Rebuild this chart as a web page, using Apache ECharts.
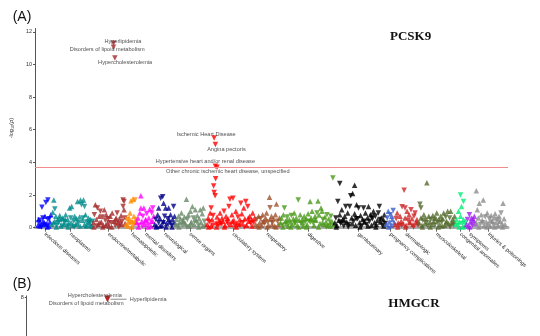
<!DOCTYPE html>
<html><head><meta charset="utf-8">
<script src="https://cdn.jsdelivr.net/npm/echarts@6/dist/echarts.min.js"></script>
<style>html,body{margin:0;padding:0;background:#fff}#c{width:540px;height:336px}</style>
</head><body><div id="c"></div>
<script>
// ---------- DATA (x = phenotype position, y = -log10(p), dir: 1 = up / -1 = down) ----------
const categories = ['infectious diseases','neoplasms','endocrine/metabolic','hematopoietic','mental disorders','neurological','sense organs','circulatory system','respiratory','digestive','genitourinary','pregnancy complications','dermatologic','musculoskeletal','congenital anomalies','symptoms','injuries & poisonings'];
const tickPos = [40,65.7,104.3,127.7,141.7,161,186.7,230,264.3,306,357,389,405,435.7,460,469.3,488.3];
const yTicksA = [0,2,4,6,8,10,12];
const yTicksB = [8];
const threshold = 3.68;

const infectious = [[33,0.15,1],[34,0.3,-1],[35,0.1,1],[35,0.45,-1],[36,0.2,1],[37,1.25,-1],[38,0.4,1],[38,0.6,-1],[39,0.15,-1],[40,0.7,1],[41,1.55,-1],[41,0.2,1],[42,0.25,1],[43,1.7,-1],[43,0.5,-1],[44,0.1,1],[45,0.35,1],[46,0.8,1],[33.5,0.5,1],[36.5,0.05,-1],[39.5,0.3,1],[42.5,0.05,1],[44.5,0.55,-1]];
const neoplasms = [[47,0.2,1],[48,0.95,1],[49,1.7,1],[50,1.15,-1],[50,0.4,1],[51,0.7,1],[52,0.15,-1],[53,0.5,1],[54,0.3,-1],[55,0.75,1],[56,0.1,1],[57,0.45,-1],[58,0.6,1],[59,0.2,1],[60,0.35,-1],[61,0.8,1],[62,0.1,-1],[63,0.5,1],[64,0.25,1],[65,1.2,1],[66,0.6,-1],[67,1.3,1],[68,0.15,1],[69,0.4,-1],[70,0.7,1],[71,0.2,1],[72,0.55,1],[73,1.6,1],[74,0.3,-1],[75,0.65,1],[76,1.7,1],[77,1.4,-1],[78,0.45,1],[79,1.7,1],[80,1.3,-1],[80,0.2,1],[81,0.8,1],[82,0.35,-1],[83,0.15,1],[84,0.6,1],[85,0.25,-1],[86,0.5,1],[87,0.1,1],[88,0.4,-1],[48.5,0.3,1],[51.5,0.05,1],[54.5,0.55,1],[57.5,0.1,-1],[60.5,0.5,1],[63.5,0.05,1],[66.5,0.3,1],[69.5,0.05,-1],[72.5,0.25,1],[75.5,0.1,1],[78.5,0.6,-1],[81.5,0.1,1],[84.5,0.35,1],[86.5,0.05,-1]];
const endocrine = [[89,0.3,1],[90,0.8,-1],[91,1.4,1],[92,0.5,1],[93,1.2,-1],[94,0.2,1],[95,0.7,1],[96,1.0,-1],[97,0.35,1],[98,0.65,-1],[99,0.15,1],[100,1.1,1],[101,0.45,-1],[102,0.8,1],[103,0.25,1],[104,0.55,-1],[105,0.1,1],[106,0.7,1],[107,0.3,-1],[108,0.9,1],[110,0.4,1],[111,0.15,-1],[112,0.6,1],[113,0.9,-1],[114,0.3,1],[115,0.5,1],[116,0.2,-1],[117,0.75,1],[118,0.4,-1],[119,1.7,-1],[119,1.3,-1],[120,1.6,-1],[120,1.1,1],[121,0.25,1],[121,0.6,-1],[89.5,0.05,1],[92.5,0.1,-1],[95.5,0.3,1],[98.5,0.05,1],[101.5,0.15,1],[104.5,0.3,-1],[107.5,0.05,1],[111.5,0.5,1],[114.5,0.05,-1],[117.5,0.2,1],[109.3,11.3,-1,'Hyperlipidemia'],[109.3,11.05,-1,'Disorders of lipoid metabolism'],[110.7,10.4,-1,'Hypercholesterolemia']];
const hematopoietic = [[122,0.2,1],[123,0.5,-1],[124,0.1,1],[125,0.6,1],[126,0.3,-1],[126,0.9,1],[127,1.65,1],[128,0.4,1],[129,1.75,1],[129,0.15,-1],[130,0.7,1],[131,1.7,-1],[132,0.35,1],[132,0.55,1],[124.5,0.35,1],[127.5,0.05,1],[130.5,0.25,-1]];
const mental = [[133,0.3,1],[134,0.6,1],[135,0.15,-1],[136,0.9,1],[137,1.95,1],[137,1.2,1],[138,0.4,1],[139,0.7,-1],[140,1.2,1],[141,0.2,1],[142,0.5,1],[143,0.85,-1],[144,0.3,1],[145,0.6,1],[146,1.15,1],[147,0.1,1],[148,0.9,-1],[149,1.2,-1],[149,0.4,1],[150,0.7,1],[134.5,0.05,1],[138.5,0.1,-1],[141.5,0.45,1],[144.5,0.05,1],[147.5,0.4,1]];
const neurological = [[151,0.2,1],[152,0.5,-1],[153,0.1,1],[154,0.8,1],[155,1.2,1],[155,0.3,-1],[156,0.6,1],[157,1.8,-1],[158,0.15,1],[159,1.9,-1],[160,1.5,1],[160,0.4,1],[161,0.7,-1],[162,1.2,1],[163,0.25,1],[164,0.55,-1],[165,1.2,1],[166,0.35,1],[167,0.8,1],[168,0.15,-1],[169,0.5,1],[170,1.3,-1],[171,0.3,1],[171,0.7,1],[152.5,0.05,1],[156.5,0.1,1],[159.5,0.3,-1],[162.5,0.05,1],[165.5,0.5,1],[168.5,0.05,1]];
const senseOrgans = [[172,0.2,1],[173,0.5,1],[174,0.1,-1],[175,0.7,1],[176,0.3,1],[177,0.55,1],[178,0.9,1],[179,0.15,-1],[180,0.4,1],[181,0.65,1],[182,0.25,1],[183,1.75,1],[184,0.5,-1],[185,0.8,1],[186,0.1,1],[187,1.0,1],[188,0.35,1],[189,1.3,1],[190,0.6,-1],[191,0.2,1],[192,1.1,1],[193,0.45,1],[194,0.75,1],[195,0.15,-1],[196,0.55,1],[197,1.1,1],[198,0.3,1],[199,0.85,1],[200,1.2,1],[201,0.4,-1],[202,0.2,1],[175.5,0.05,1],[179.5,0.45,1],[183.5,0.05,-1],[187.5,0.25,1],[191.5,0.5,1],[195.5,0.05,1],[199.5,0.1,1]];
const circulatory = [[204,0.2,1],[205,0.6,1],[206,0.35,-1],[207,0.9,1],[208,1.2,-1],[208,0.1,1],[209,0.5,1],[210,0.75,-1],[210.5,2.55,-1],[211,2.15,-1],[212.5,3.0,-1],[212,1.95,-1],[213,0.3,1],[214,0.65,1],[215,0.15,-1],[216,0.45,1],[217,0.9,1],[218,0.25,-1],[219,0.6,1],[220,0.4,1],[221,1.0,-1],[222,0.15,1],[223,0.7,1],[224,0.35,-1],[225,0.55,1],[226,1.3,-1],[227,1.75,-1],[228,0.2,1],[229,0.8,1],[230,1.8,-1],[231,0.45,1],[232,0.1,-1],[233,1.0,1],[234,0.3,1],[235,0.65,-1],[236,0.2,1],[237,0.5,1],[238,1.5,-1],[239,0.85,1],[240,0.3,-1],[241,1.2,1],[242,0.55,1],[243,1.6,-1],[244,0.15,1],[245,1.3,-1],[246,0.4,1],[247,0.7,1],[248,0.25,-1],[249,0.5,1],[250,0.9,1],[251,0.3,-1],[252,0.6,1],[205.5,0.05,1],[209.5,0.15,-1],[213.5,0.05,1],[217.5,0.3,1],[221.5,0.05,1],[225.5,0.2,-1],[229.5,0.4,1],[233.5,0.05,1],[237.5,0.25,1],[241.5,0.05,-1],[245.5,0.6,1],[249.5,0.1,1],[211,5.5,-1,'Ischemic Heart Disease'],[212.3,5.1,-1,'Angina pectoris'],[212.3,3.77,-1,'Hypertensive heart and/or renal disease'],[214,3.7,-1,'Other chronic ischemic heart disease, unspecified']];
const respiratory = [[253,0.2,1],[254,0.5,-1],[255,0.1,1],[256,0.7,1],[257,0.3,1],[258,0.55,-1],[259,0.15,1],[260,0.8,1],[261,0.4,1],[262,0.25,-1],[263,0.6,1],[264,0.9,1],[265,0.35,-1],[266,0.15,1],[267,1.86,1],[267.5,1.22,-1],[268,0.5,1],[269,0.7,1],[270,0.3,-1],[271,0.55,1],[272,0.1,1],[273,0.8,1],[274,1.45,1],[275,0.4,-1],[276,0.2,1],[277,0.6,1],[256.5,0.05,1],[260.5,0.3,-1],[264.5,0.05,1],[269.5,0.2,1],[273.5,0.05,1]];
const digestive = [[278,0.3,1],[279,0.6,1],[280,0.15,-1],[281,0.8,1],[282,1.2,-1],[283,0.4,1],[284,0.25,1],[285,0.65,-1],[286,0.1,1],[287,0.5,1],[288,0.35,1],[289,0.75,-1],[290,0.2,1],[291,0.55,1],[292,0.9,1],[293,0.3,-1],[294,0.6,1],[295,0.15,1],[296,1.7,-1],[297,0.45,1],[298,0.8,1],[299,0.25,-1],[300,0.5,1],[301,0.1,1],[302,0.7,1],[303,0.35,-1],[304,0.55,1],[305,0.2,1],[306,0.85,1],[307,0.4,-1],[308,1.6,1],[309,0.6,1],[310,1.0,1],[311,0.3,-1],[312,0.15,1],[313,0.7,1],[314,0.45,1],[315,0.9,-1],[316,1.63,1],[317,0.78,1],[318,0.25,1],[319,1.2,1],[320,1.0,1],[321,0.5,-1],[322,0.2,1],[323,0.65,1],[324,0.35,1],[325,0.8,-1],[326,0.15,1],[327,0.55,1],[328,0.3,1],[329,0.7,-1],[330,0.4,1],[331,3.05,-1],[332,0.2,1],[280.5,0.05,1],[284.5,0.45,1],[288.5,0.05,1],[292.5,0.25,-1],[296.5,0.05,1],[300.5,0.3,1],[304.5,0.05,1],[308.5,0.35,-1],[312.5,0.5,1],[316.5,0.05,1],[320.5,0.3,1],[324.5,0.05,-1],[328.5,0.1,1]];
const genitourinary = [[333,0.3,1],[334,0.6,-1],[335,0.15,1],[336,1.6,-1],[337,0.45,1],[338,2.7,-1],[338,0.8,1],[339,0.25,-1],[340,1.1,1],[341,0.5,1],[342,0.1,-1],[343,0.7,1],[344,1.3,-1],[345,0.35,1],[346,0.9,1],[347,0.2,-1],[348,1.3,-1],[349,1.95,-1],[350,0.6,1],[351,2.1,1],[352,0.4,-1],[353,2.6,1],[353,0.85,1],[354,0.15,1],[355,1.4,1],[356,0.55,-1],[357,1.2,-1],[358,0.3,1],[359,0.75,1],[360,0.1,-1],[361,0.5,1],[362,1.2,-1],[363,0.35,1],[364,0.9,1],[365,0.2,-1],[366,0.6,1],[367,1.3,1],[368,0.4,-1],[369,0.8,1],[370,0.15,1],[371,0.55,-1],[372,1.0,1],[373,0.3,1],[374,0.7,-1],[375,0.2,1],[376,0.45,1],[377,0.9,-1],[378,1.3,-1],[379,0.35,1],[380,0.6,1],[381,0.15,-1],[382,0.5,1],[383,0.8,1],[384,0.25,-1],[334.5,0.05,1],[338.5,0.35,-1],[342.5,0.45,1],[346.5,0.05,-1],[350.5,0.25,1],[354.5,0.55,-1],[358.5,0.05,1],[362.5,0.4,-1],[366.5,0.1,1],[370.5,0.65,-1],[374.5,0.05,1],[378.5,0.5,-1],[382.5,0.1,1]];
const pregnancy = [[385,0.2,1],[386,0.6,-1],[387,1.0,1],[388,0.35,1],[389,0.8,-1],[390,0.15,1],[391,0.5,1],[392,1.05,-1],[393,0.3,1],[387.5,0.05,1],[390.5,0.7,1]];
const dermatologic = [[394,0.2,1],[395,0.55,-1],[396,0.9,1],[397,0.3,1],[398,0.1,-1],[399,0.7,1],[400,0.4,1],[401,1.28,-1],[402,0.25,1],[403,2.3,-1],[404,1.2,-1],[404,0.6,1],[405,0.15,1],[406,1.0,1],[407,0.45,-1],[408,0.8,1],[409,0.3,1],[410,1.1,-1],[411,0.55,1],[412,0.2,1],[413,0.7,-1],[414,0.9,-1],[415,0.35,1],[416,0.5,1],[417,0.15,-1],[396.5,0.05,1],[400.5,0.15,-1],[404.5,0.05,1],[408.5,0.35,1],[412.5,0.05,-1],[416.5,0.3,1]];
const musculoskeletal = [[418,0.3,1],[419,1.43,-1],[420,1.2,-1],[420,0.6,1],[421,0.15,1],[422,0.45,-1],[423,0.8,1],[424,0.25,1],[425,0.55,1],[426,2.75,1],[427,0.1,-1],[428,0.7,1],[429,0.35,1],[430,0.5,-1],[431,0.2,1],[432,0.75,1],[433,0.4,1],[434,0.15,-1],[435,0.6,1],[436,0.9,1],[437,0.3,-1],[438,0.5,1],[439,0.2,1],[440,0.7,1],[441,0.35,-1],[442,0.55,1],[443,0.9,1],[444,0.15,1],[445,0.65,-1],[446,0.4,1],[447,1.0,1],[448,0.25,1],[449,0.6,-1],[450,1.0,1],[451,0.3,1],[452,0.5,1],[453,0.15,-1],[454,0.7,1],[421.5,0.05,1],[425.5,0.3,-1],[429.5,0.05,1],[433.5,0.6,1],[437.5,0.05,1],[441.5,0.1,1],[445.5,0.3,1],[449.5,0.05,-1],[453.5,0.4,1]];
const congenital = [[455,0.2,1],[456,0.5,1],[457,0.15,-1],[458,1.0,1],[459,0.35,1],[460,2.0,-1],[460,0.7,1],[461,1.3,1],[462,0.25,-1],[463,1.6,-1],[463,0.5,1],[464,0.1,1],[465,0.4,1],[458.5,0.05,1],[462.5,0.05,1]];
const symptoms = [[466,0.2,1],[467,0.5,-1],[468,0.1,1],[469,0.8,-1],[470,0.35,1],[471,0.6,1],[472,0.15,-1],[473,0.45,1],[474,0.7,1],[475,0.25,1],[469.5,0.05,1],[472.5,0.55,1]];
const injuries = [[476,0.3,1],[476,2.26,1],[477,1.1,1],[478,0.6,1],[479,1.5,1],[480,0.2,-1],[481,0.8,1],[482,0.45,1],[483,1.7,1],[484,0.15,1],[485,0.65,-1],[486,0.35,1],[487,0.9,1],[488,0.25,1],[489,0.55,-1],[490,0.1,1],[491,0.75,1],[492,0.4,1],[493,0.2,-1],[494,0.6,1],[495,0.85,1],[496,0.3,1],[497,0.5,-1],[498,0.15,1],[499,0.7,1],[500,0.4,1],[501,0.9,-1],[502,0.25,1],[503,1.5,1],[504,0.55,1],[505,0.2,1],[478.5,0.05,1],[482.5,0.3,-1],[486.5,0.05,1],[490.5,0.45,1],[494.5,0.05,1],[498.5,0.35,-1],[502.5,0.05,1]];

// Panel B (HMGCR) – only the top of the panel is visible
const hmgcr = [[107.3,7.83,-1,'Hypercholesterolemia'],[107.3,7.58,-1,'Hyperlipidemia'],[107.6,7.52,-1,'Disorders of lipoid metabolism']];

// ---------- STYLE ----------
const catColors = ['#0000FF','#008B8B','#A52A2A','#FF8C00','#FF00FF','#00008B','#698B69','#FF0000','#A0522D','#4A9A1A','#000000','#3A5FCD','#CD2626','#556B2F','#00EE76','#A020F0','#8C8C8C'];
const catData = [infectious,neoplasms,endocrine,hematopoietic,mental,neurological,senseOrgans,circulatory,respiratory,digestive,genitourinary,pregnancy,dermatologic,musculoskeletal,congenital,symptoms,injuries];
const labelOffsetA = {
  'Hyperlipidemia':[9.4,-1.7],
  'Disorders of lipoid metabolism':[-6.3,2.3],
  'Hypercholesterolemia':[10.3,4.7],
  'Ischemic Heart Disease':[-8,-3.7],
  'Angina pectoris':[11,5],
  'Hypertensive heart and/or renal disease':[-10,-4.3],
  'Other chronic ischemic heart disease, unspecified':[10.7,4.4]
};
const labelOffsetB = {
  'Hypercholesterolemia':[-12.6,-2.8],
  'Disorders of lipoid metabolism':[-21.3,4.2]
};
const FONT = 'Liberation Sans';
const annFont = {fontFamily:FONT, fontSize:5.6, color:'#222'};

function toItems(arr, offsets, panelB){
  return arr.map(p=>{
    const it = {value:[p[0],p[1]], symbolRotate: p[2] < 0 ? 180 : 0};
    if (p[3]) {
      it.name = p[3];
      if (panelB && p[3]==='Hyperlipidemia') {
        it.label = {show:true, position:'right', distance:0.5, formatter:'{ln|}{t|  Hyperlipidemia}',
          rich:{ln:{width:16, height:0.7, backgroundColor:'#333'}, t:annFont}};
      } else {
        it.label = Object.assign({show:true, position:'inside', offset:offsets[p[3]], formatter:p[3]}, annFont);
      }
    }
    return it;
  });
}

const series = catData.map((arr,i)=>({
  type:'scatter', name:categories[i], xAxisIndex:0, yAxisIndex:0,
  symbol:'triangle', symbolSize:5.5, itemStyle:{color:catColors[i]},
  data: toItems(arr, labelOffsetA, false),
  emphasis:{disabled:true}
}));
series[0].markLine = {silent:true, symbol:'none', animation:false,
  lineStyle:{color:'#F28C8C', width:1, type:'solid'}, label:{show:false},
  data:[{yAxis:threshold}]};
series.push({
  type:'scatter', name:'HMGCR', xAxisIndex:1, yAxisIndex:1,
  symbol:'triangle', symbolSize:5.5, itemStyle:{color:'#B22222'},
  data: toItems(hmgcr, labelOffsetB, true), emphasis:{disabled:true}
});

const axisGray = '#555';
const option = {
  animation:false,
  backgroundColor:'#fff',
  textStyle:{fontFamily:FONT},
  grid:[
    {left:30, top:28.5, width:478, height:199.2},
    {left:26.7, top:295.9, width:481.3, height:134.7}
  ],
  xAxis:[
    {type:'value', gridIndex:0, min:30, max:508, offset:3,
      axisLine:{show:true, lineStyle:{color:'#ABABAB', width:3}},
      axisTick:{show:true, customValues:tickPos, length:4, lineStyle:{color:'#444', width:0.8}},
      axisLabel:{show:true, customValues:tickPos, rotate:-41, margin:3, fontSize:5.4, color:'#222', fontFamily:FONT,
        formatter:(v)=>{ const k = tickPos.indexOf(v); return k>=0 ? categories[k] : ''; }},
      splitLine:{show:false}},
    {type:'value', gridIndex:1, min:26.7, max:508, show:false, splitLine:{show:false}}
  ],
  yAxis:[
    {type:'value', gridIndex:0, min:0, max:12.2,
      name:'{a|-log}{s|10}{a|(}{i|p}{a|)}', nameLocation:'middle', nameGap:10,
      nameTextStyle:{rich:{a:{fontSize:5.5,color:'#333',fontFamily:FONT,lineHeight:8,verticalAlign:'middle'},
        s:{fontSize:4,color:'#333',fontFamily:FONT,lineHeight:8,verticalAlign:'bottom'},
        i:{fontSize:5.5,color:'#333',fontFamily:FONT,fontStyle:'italic',lineHeight:8,verticalAlign:'middle'}}},
      axisLine:{show:true, lineStyle:{color:axisGray, width:1}},
      axisTick:{show:true, customValues:yTicksA, length:2, lineStyle:{color:axisGray}},
      axisLabel:{show:true, customValues:yTicksA, margin:3, fontSize:5.5, color:'#333', fontFamily:FONT},
      splitLine:{show:false}},
    {type:'value', gridIndex:1, min:0, max:8.25,
      axisLine:{show:true, lineStyle:{color:axisGray, width:1}},
      axisTick:{show:true, customValues:yTicksB, length:2, lineStyle:{color:axisGray}},
      axisLabel:{show:true, customValues:yTicksB, margin:3, fontSize:5.5, color:'#333', fontFamily:FONT},
      splitLine:{show:false}}
  ],
  graphic:[
    {type:'text', x:12.7, y:16.7, style:{text:'(A)', font:'14px "Liberation Sans"', fill:'#111', textVerticalAlign:'middle', verticalAlign:'middle'}},
    {type:'text', x:390, y:37, style:{text:'PCSK9', font:'bold 13px "Liberation Serif"', fill:'#111', textVerticalAlign:'middle', verticalAlign:'middle'}},
    {type:'text', x:12.7, y:284.5, style:{text:'(B)', font:'14px "Liberation Sans"', fill:'#111', textVerticalAlign:'middle', verticalAlign:'middle'}},
    {type:'text', x:388.3, y:304, style:{text:'HMGCR', font:'bold 13px "Liberation Serif"', fill:'#111', textVerticalAlign:'middle', verticalAlign:'middle'}}
  ],
  series: series
};
const chart = echarts.init(document.getElementById('c'), null, {renderer:'canvas'});
chart.setOption(option);
</script></body></html>
